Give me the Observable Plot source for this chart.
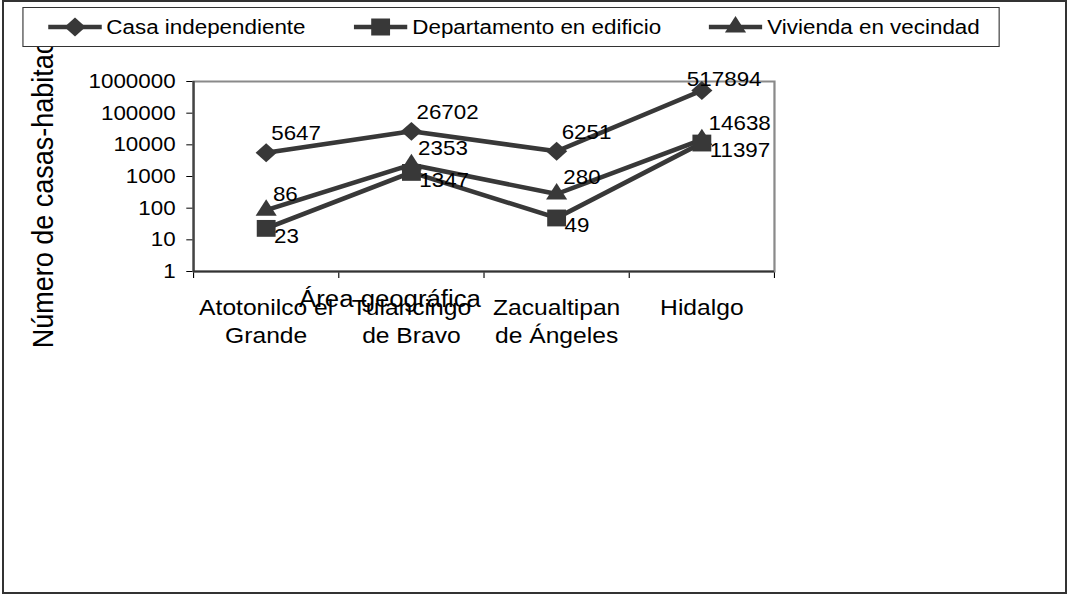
<!DOCTYPE html>
<html>
<head>
<meta charset="utf-8">
<script src="https://cdn.jsdelivr.net/npm/d3@7"></script>
<script src="https://cdn.jsdelivr.net/npm/@observablehq/plot@0.6"></script>
<style>
  html, body { margin: 0; padding: 0; background: #fff; overflow: hidden; }
  body { width: 1068px; height: 595px; position: relative; font-family: 'Liberation Sans', Arial, sans-serif; }
  #wrap { position: absolute; left: 0; top: 0; width: 954px; height: 595px; transform: scaleX(1.119497); transform-origin: 0 0; }
  #chart svg { position: absolute; left: 0; top: 0; clip-path: inset(7px 0 0 0); }
  #legend { position: absolute; left: 19.6px; top: 7px; width: 873.6px; height: 40px; border: 1px solid #333; background: #fff; box-sizing: border-box; }
  .item { position: absolute; top: 0; height: 100%; display: flex; align-items: center; font-size: 20px; color: #000; white-space: nowrap; }
  .item svg { margin-right: 4px; }
  #outer { position: absolute; left: 2px; top: 0; width: 1065px; height: 594px; border: 2px solid #333; box-sizing: border-box; pointer-events: none; }
</style>
</head>
<body>
<div id="wrap">
  <div id="chart"></div>
  <div id="legend"></div>
</div>
<div id="outer"></div>
<script>
// ---- data ----
const categories = ["Atotonilco el Grande", "Tulancingo de Bravo", "Zacualtipan de Ángeles", "Hidalgo"];
const categoryLabels = ["Atotonilco el\nGrande", "Tulancingo\nde Bravo", "Zacualtipan\nde Ángeles", "Hidalgo"];
const series = ["Casa independiente", "Departamento en edificio", "Vivienda en vecindad"];
const casaIndependiente = [5647, 26702, 6251, 517894];
const departamentoEdificio = [23, 1347, 49, 11397];
const viviendaVecindad = [86, 2353, 280, 14638];
const yTicks = [1, 10, 100, 1000, 10000, 100000, 1000000];
const xTitle = "Área geográfica";
const yTitle = "Número de casas-habitación";

// ---- build table ----
const seriesValues = [casaIndependiente, departamentoEdificio, viviendaVecindad];
const rows = [];
series.forEach((s, si) => seriesValues[si].forEach((v, i) => rows.push({series: s, category: categories[i], index: i, value: v})));
const bySeries = s => rows.filter(d => d.series === s);
const xPos = d => d.index + 0.5;
const lastIndex = categories.length - 1;

const ink = "#383838";
const symbols = ["diamond2", "square", "triangle"];
const radii = [8.5, 9.5, 7];
const d3Symbols = {diamond2: d3.symbolDiamond2, square: d3.symbolSquare, triangle: d3.symbolTriangle};

const casa = bySeries(series[0]);
const depto = bySeries(series[1]);
const viv = bySeries(series[2]);

const chart = Plot.plot({
  width: 954,
  height: 595,
  marginLeft: 172.4,
  marginRight: 262.7,
  marginTop: 81,
  marginBottom: 324,
  style: {fontFamily: "'Liberation Sans', Arial, sans-serif", fontSize: "20px", color: "#000", background: "transparent", overflow: "visible"},
  x: {type: "linear", domain: [0, categories.length], ticks: d3.range(categories.length + 1), tickSize: 7, tickFormat: () => "", label: null},
  y: {type: "log", domain: [1, 1000000], ticks: yTicks, tickFormat: d3.format("d"), tickSize: 6, tickPadding: 10, label: null},
  marks: [
    Plot.frame({stroke: "#8a8a8a", strokeWidth: 2}),
    Plot.ruleX([0], {stroke: "#444", strokeWidth: 2}),
    Plot.ruleY([1], {stroke: "#333", strokeWidth: 2}),
    Plot.line(rows, {x: xPos, y: "value", z: "series", stroke: ink, strokeWidth: 4.5, strokeLinejoin: "miter", curve: "linear"}),
    Plot.dot(viv, {x: xPos, y: "value", symbol: symbols[2], r: radii[2], fill: ink}),
    Plot.dot(casa, {x: xPos, y: "value", symbol: symbols[0], r: radii[0], fill: ink}),
    Plot.dot(depto, {x: xPos, y: "value", symbol: symbols[1], r: radii[1], fill: ink}),
    // data labels
    Plot.text(casa.filter(d => d.index !== lastIndex), {x: xPos, y: "value", text: d => String(d.value), textAnchor: "start", dx: 4.5, dy: -19, fontSize: 20, fill: "#000"}),
    Plot.text(casa.filter(d => d.index === lastIndex), {x: xPos, y: "value", text: d => String(d.value), textAnchor: "start", dx: -13.4, dy: -11, fontSize: 20, fill: "#000"}),
    Plot.text(viv, {x: xPos, y: "value", text: d => String(d.value), textAnchor: "start", dx: 6, dy: -16, fontSize: 20, fill: "#000"}),
    Plot.text(depto, {x: xPos, y: "value", text: d => String(d.value), textAnchor: "start", dx: 7, dy: 8, fontSize: 20, fill: "#000"}),
    // category labels
    Plot.text(categories, {x: (d, i) => i + 0.5, frameAnchor: "bottom", text: (d, i) => categoryLabels[i], lineAnchor: "top", dy: 23.4, lineHeight: 1.27, fontSize: 22, fill: "#000"}),
    // axis titles
    Plot.text([xTitle], {frameAnchor: "bottom", text: d => d, lineAnchor: "top", dx: -84, dy: 18.7, fontSize: 23, fill: "#000"}),
    Plot.text([yTitle], {frameAnchor: "left", text: d => d, rotate: -90, textAnchor: "middle", lineAnchor: "middle", dx: -134, fontSize: 27, fill: "#000"})
  ]
});
document.getElementById("chart").appendChild(chart);

// ---- legend ----
const legend = document.getElementById("legend");
const itemLefts = [22.4, 295.7, 612.8];
series.forEach((s, i) => {
  const item = document.createElement("div");
  item.className = "item";
  item.style.left = itemLefts[i] + "px";
  const sizeArea = Math.PI * radii[i] * radii[i];
  const path = d3.symbol(d3Symbols[symbols[i]], sizeArea)();
  item.innerHTML = `<svg width="48" height="26" viewBox="0 0 48 26"><line x1="0" x2="48" y1="13" y2="13" stroke="${ink}" stroke-width="4.5"/><path transform="translate(24,13)" d="${path}" fill="${ink}"/></svg><span>${s}</span>`;
  legend.appendChild(item);
});
</script>
</body>
</html>
